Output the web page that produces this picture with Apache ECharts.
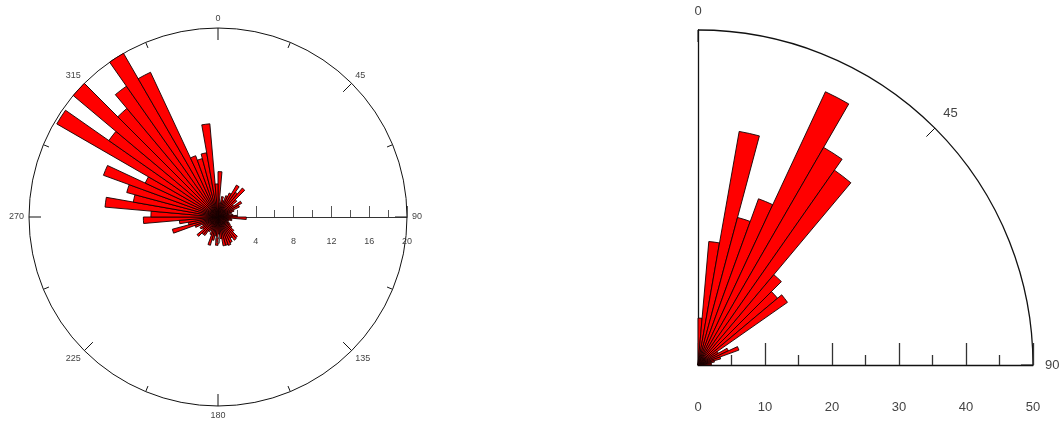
<!DOCTYPE html>
<html>
<head>
<meta charset="utf-8">
<script src="https://cdn.jsdelivr.net/npm/echarts@6/dist/echarts.min.js"></script>
<style>
html,body{margin:0;padding:0;background:#fff}
#main{width:1063px;height:423px}
</style>
</head>
<body>
<div id="main"></div>
<script>
// 5 degree sectors: full circle on the left, first quadrant on the right
var fullSectors = [];
for (var i = 0; i < 72; i++) fullSectors.push(i * 5 + '-' + (i * 5 + 5));
var quarterSectors = fullSectors.slice(0, 18);

// counts per sector
var leftCounts = [
  4.8, 1.5, 2.2, 1.8, 2.4, 2.8, 3.9, 3.2, 4.0, 2.6,      // 0-50
  2.0, 2.9, 2.5, 1.8, 1.5, 1.2, 1.6, 2.0, 3.0, 1.4,      // 50-100
  1.5, 1.2, 1.0, 1.3, 1.5, 1.8, 2.2, 2.9, 3.0, 2.6,      // 100-150
  3.0, 3.2, 3.1, 3.1, 2.3, 1.8, 3.0, 2.0, 2.5, 3.1,      // 150-200
  2.0, 1.6, 1.8, 2.4, 2.4, 2.9, 2.0, 2.2, 1.8, 2.6,      // 200-250
  5.0, 3.2, 4.1, 7.9, 7.1, 12.0, 9.1, 10.0, 12.9, 8.5,   // 250-300
  19.7, 14.1, 20.5, 15.0, 16.9, 20.0, 16.9, 6.9, 6.4, 6.9, // 300-350
  9.9, 3.5                                                // 350-360
];
var rightCounts = [7.0, 18.5, 35.4, 22.8, 26.4, 45.0, 37.5, 35.5, 17.6, 15.5, 16.3, 3.5, 5.0, 6.5, 3.5, 2.5, 2.0, 2.0];

var leftRadiusMax = 20;
var rightRadiusMax = 50;

var barStyle = {color: '#ff0000', borderColor: '#140000', borderWidth: 0.9};
var lblColor = '#444';

var chart = echarts.init(document.getElementById('main'));
var option = {
  animation: false,
  polar: [
    {center: [218, 217], radius: 189},  // left bars
    {center: [218, 217], radius: 189},  // left frame
    {center: [698, 365], radius: 335},  // right bars
    {center: [698, 365], radius: 335}   // right frame
  ],
  angleAxis: [
    {
      polarIndex: 0, type: 'category', data: fullSectors,
      startAngle: 90, clockwise: true, show: false
    },
    {
      polarIndex: 1, type: 'value', min: 90, max: 450, interval: 45,
      startAngle: 0, clockwise: true,
      axisLine: {lineStyle: {color: '#111', width: 1}},
      axisTick: {inside: true, length: 12, lineStyle: {color: '#111'}},
      minorTick: {show: true, splitNumber: 2, length: 6, lineStyle: {color: '#111'}},
      axisLabel: {
        margin: 5, color: lblColor, fontSize: 9, fontFamily: 'Liberation Sans',
        formatter: function (v) { return String(v % 360); }
      },
      splitLine: {show: false}
    },
    {
      polarIndex: 2, type: 'category', data: quarterSectors,
      startAngle: 90, endAngle: 0, clockwise: true, show: false
    },
    {
      polarIndex: 3, type: 'value', min: 0, max: 90, interval: 45,
      startAngle: 0, endAngle: 90, clockwise: false,
      axisLine: {lineStyle: {color: '#111', width: 1.3}},
      axisTick: {inside: true, length: 12, lineStyle: {color: '#111'}},
      axisLabel: {
        margin: 12, color: lblColor, fontSize: 13, fontFamily: 'Liberation Sans',
        formatter: function (v) { return String(90 - v); }
      },
      splitLine: {show: false}
    }
  ],
  radiusAxis: [
    {polarIndex: 0, min: 0, max: leftRadiusMax, show: false},
    {
      polarIndex: 1, type: 'value', min: 0, max: leftRadiusMax, interval: 4,
      axisLine: {lineStyle: {color: '#333', width: 1}},
      axisTick: {length: 11, lineStyle: {color: '#555'}},
      minorTick: {show: true, splitNumber: 2, length: 7, lineStyle: {color: '#555'}},
      axisLabel: {showMinLabel: true, margin: -29, color: lblColor, fontSize: 9, fontFamily: 'Liberation Sans'},
      splitLine: {show: false}
    },
    {
      polarIndex: 2, min: 0, max: rightRadiusMax,
      axisLine: {lineStyle: {color: '#111', width: 1.3}},
      axisTick: {show: false}, axisLabel: {show: false}, splitLine: {show: false}
    },
    {
      polarIndex: 3, type: 'value', min: 0, max: rightRadiusMax, interval: 10,
      axisLine: {lineStyle: {color: '#111', width: 1.3}},
      axisTick: {length: 22, lineStyle: {color: '#333', width: 1.3}},
      minorTick: {show: true, splitNumber: 2, length: 10, lineStyle: {color: '#333', width: 1.3}},
      axisLabel: {margin: -49, color: lblColor, fontSize: 13, fontFamily: 'Liberation Sans'},
      splitLine: {show: false}
    }
  ],
  // the full-circle radius axis drops its label at the centre, so add it back
  graphic: [{
    type: 'text', left: 215, top: 236, z: 100,
    style: {text: '0', fill: lblColor, font: '9px "Liberation Sans"'}
  }],
  series: [
    {
      type: 'bar', coordinateSystem: 'polar', polarIndex: 0,
      data: leftCounts, barCategoryGap: '0%', itemStyle: barStyle
    },
    {
      type: 'bar', coordinateSystem: 'polar', polarIndex: 2,
      data: rightCounts, barCategoryGap: '0%', itemStyle: barStyle
    }
  ]
};
chart.setOption(option);
</script>
</body>
</html>
